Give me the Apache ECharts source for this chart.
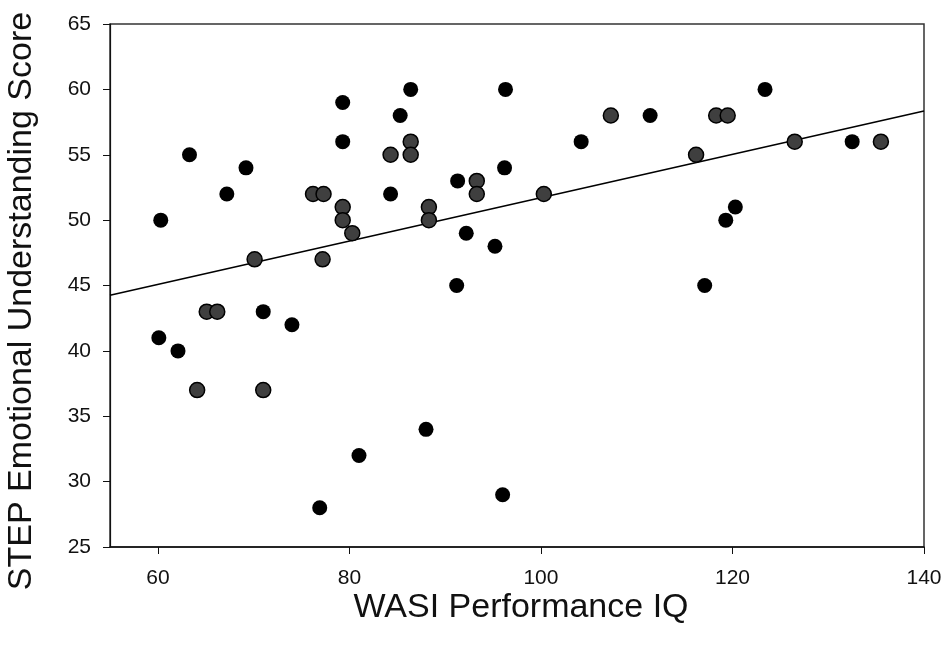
<!DOCTYPE html>
<html>
<head>
<meta charset="utf-8">
<script src="https://cdn.jsdelivr.net/npm/echarts@6/dist/echarts.min.js"></script>
<style>html,body{margin:0;padding:0;background:#fff;}#c{width:945px;height:649px;}</style>
</head>
<body>
<div id="c"></div>
<script>
// Solid black markers
const blackX = [60.3,63.3,67.2,69.2,79.3,79.3,84.3,85.3,86.4,96.3,91.3,96.2,92.2,95.2,104.2,111.4,91.2,123.4,132.5,120.3,119.3,117.1,71.0,74.0,60.1,62.1,81.0,76.9,88.0,96.0];
const blackY = [50,55,52,54,59,56,52,58,60,60,53,54,49,48,56,58,45,60,56,51,50,45,43,42,41,40,32,28,34,29];
// Gray (shaded) markers
const grayX = [70.1,76.2,77.3,77.2,79.3,79.3,80.3,84.3,86.4,86.4,93.3,93.3,88.3,88.3,100.3,107.3,118.3,119.5,116.2,126.5,135.5,65.1,66.2,64.1,71.0];
const grayY = [47,52,52,47,51,50,49,55,56,55,53,52,51,50,52,58,58,58,55,56,56,43,43,37,37];
// Regression line endpoints
const lineX = [55,140];
const lineY = [44.25,58.35];
// X tick values
const xTicks = [60,80,100,120,140];

const xTitle = 'WASI Performance IQ';
const yTitle = 'STEP Emotional Understanding Score';

const zip = (a,b)=>a.map((v,i)=>[v,b[i]]);
const FONT = '"Liberation Sans", Arial, sans-serif';

const chart = echarts.init(document.getElementById('c'));
chart.setOption({
  animation:false,
  backgroundColor:'#fff',
  grid:{left:110,right:21,top:24,bottom:102,show:true,borderColor:'#333',borderWidth:1.5,backgroundColor:'transparent'},
  xAxis:{type:'value',min:55,max:140,interval:5,
    axisLine:{show:true,onZero:false,lineStyle:{color:'#111',width:1.5}},
    axisTick:{show:true,length:7,inside:false,customValues:xTicks,lineStyle:{color:'#111',width:1}},
    splitLine:{show:false},
    axisLabel:{color:'#111',fontSize:21,fontFamily:FONT,margin:21,customValues:xTicks}
  },
  yAxis:{type:'value',min:25,max:65,interval:5,
    axisLine:{show:true,onZero:false,lineStyle:{color:'#111',width:1.2}},
    axisTick:{show:true,length:7,inside:false,lineStyle:{color:'#111',width:1}},
    splitLine:{show:false},
    axisLabel:{color:'#111',fontSize:21,fontFamily:FONT,margin:19}
  },
  graphic:[
    {type:'text',x:521,y:608,style:{text:xTitle,fill:'#111',font:'34px '+FONT,align:'center',verticalAlign:'middle'}},
    {type:'text',rotation:Math.PI/2,x:22,y:301,style:{text:yTitle,fill:'#111',font:'34px '+FONT,align:'center',verticalAlign:'middle'}}
  ],
  series:[
    {type:'line',data:zip(lineX,lineY),symbol:'none',lineStyle:{color:'#000',width:1.6},z:1,silent:true},
    {type:'scatter',data:zip(grayX,grayY),symbol:'circle',symbolSize:15,
      itemStyle:{color:'#3f3f3f',borderColor:'#000',borderWidth:1.5,opacity:1},z:3},
    {type:'scatter',data:zip(blackX,blackY),symbol:'circle',symbolSize:15,
      itemStyle:{color:'#000',opacity:1},z:3}
  ]
});
</script>
</body>
</html>
